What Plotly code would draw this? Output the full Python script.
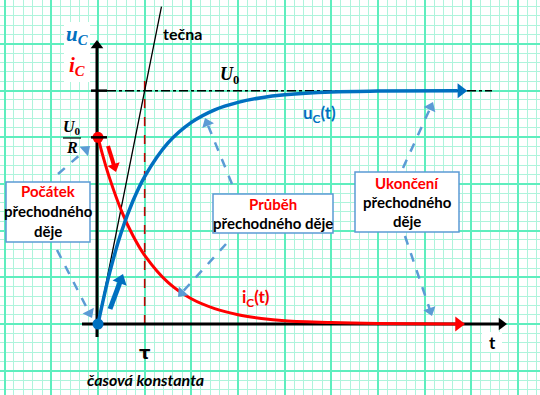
import math
import plotly.graph_objects as go

# ---- data (units: time in tau, values in grid units) ----
TAU = 1.0
U0 = 5.0
I0 = 4.0
t_uc = [0, 0.25, 0.5, 0.75, 1.0, 1.5, 2.0, 2.5, 3.0, 3.5, 4.0, 5.0, 6.0, 7.7]
uc = [0, 1.1, 1.97, 2.64, 3.16, 3.88, 4.32, 4.59, 4.75, 4.85, 4.91, 4.97, 4.99, 5.0]
t_ic = [0, 0.1, 0.25, 0.5, 0.75, 1.0, 1.5, 2.0, 2.5, 3.0, 3.5, 4.0, 5.0, 6.0, 7.65]
ic = [4.0, 3.62, 3.12, 2.43, 1.89, 1.47, 0.89, 0.54, 0.33, 0.2, 0.12, 0.07, 0.03, 0.01, 0.0]
tangent_t = [0, 1.36]
tangent_u = [0, 6.8]

# ---- layout helpers (pixel -> axis units) ----
W, H = 540, 395
S = 46.67
OX, OY = 98, 324
def X(px):
    return (px - OX) / S
def Y(py):
    return (OY - py) / S
def PX(x):
    return OX + x * S
def PY(y):
    return OY - y * S

BLUE = "#0070c0"
RED = "#ff0000"
LBLUE = "#5b9bd5"
DRED = "#c00000"

fig = go.Figure()

def arrow(s, e, color, width, hs, dash="solid", draw_line=True):
    dx, dy = e[0] - s[0], e[1] - s[1]
    L = math.hypot(dx, dy)
    ux, uy = dx / L, dy / L
    r = hs / 2.0
    c = (e[0] - ux * r, e[1] - uy * r)
    if draw_line:
        le = (e[0] - ux * r * 1.2, e[1] - uy * r * 1.2)
        fig.add_trace(go.Scatter(x=[X(s[0]), X(le[0])], y=[Y(s[1]), Y(le[1])], mode="lines",
                                 line=dict(color=color, width=width, dash=dash), hoverinfo="skip"))
    ang = math.degrees(math.atan2(dx, -dy))
    fig.add_trace(go.Scatter(x=[X(c[0])], y=[Y(c[1])], mode="markers",
                             marker=dict(symbol="triangle-up", size=hs, angle=ang, color=color,
                                         line=dict(width=0)), hoverinfo="skip"))

# tangent
fig.add_trace(go.Scatter(x=tangent_t, y=tangent_u, mode="lines",
                         line=dict(color="black", width=1.3), hoverinfo="skip"))
# axes
arrow((97, 337), (97, 40), "black", 3, 11)
arrow((82, 324), (507, 324), "black", 3, 11)
# curves
fig.add_trace(go.Scatter(x=t_ic, y=ic, mode="lines", line=dict(color=RED, width=3, shape="spline"),
                         hoverinfo="skip"))
fig.add_trace(go.Scatter(x=t_uc, y=uc, mode="lines", line=dict(color=BLUE, width=3.5, shape="spline"),
                         hoverinfo="skip"))
# curve end heads
arrow((PX(t_ic[-2]), PY(ic[-2])), (PX(t_ic[-1]) + 10, PY(ic[-1])), RED, 3, 13, draw_line=False)
arrow((PX(t_uc[-2]), PY(uc[-2])), (PX(t_uc[-1]) + 10, PY(uc[-1])), BLUE, 3, 13, draw_line=False)
fig.add_trace(go.Scatter(x=[t_ic[-1], X(PX(t_ic[-1]) + 4)], y=[0, 0], mode="lines",
                         line=dict(color=RED, width=3), hoverinfo="skip"))
fig.add_trace(go.Scatter(x=[t_uc[-1], X(PX(t_uc[-1]) + 4)], y=[U0, U0], mode="lines",
                         line=dict(color=BLUE, width=3.5), hoverinfo="skip"))
# dots
fig.add_trace(go.Scatter(x=[0], y=[I0], mode="markers", marker=dict(color=RED, size=11), hoverinfo="skip"))
fig.add_trace(go.Scatter(x=[0], y=[0], mode="markers", marker=dict(color=BLUE, size=11), hoverinfo="skip"))

# dashed arrows
dashed = [((58, 174), (90, 146)), ((57, 250), (92, 318)), ((232, 184), (205, 118)),
          ((226, 244), (178, 297)), ((403, 168), (433, 102)), ((405, 236), (432, 316))]
for (s, e) in dashed:
    arrow(s, e, LBLUE, 2.5, 11, dash="dash")
# solid short arrows
arrow((108, 146), (116, 172), RED, 4, 11)
arrow((110, 309), (123, 274), BLUE, 5, 13)

shapes = []
shapes.append(dict(type="line", x0=X(107), x1=X(492), y0=U0, y1=U0, layer="between",
                   line=dict(color="black", width=1.5, dash="dashdot")))
shapes.append(dict(type="line", x0=TAU, x1=TAU, y0=0, y1=Y(74), layer="between",
                   line=dict(color=DRED, width=1.6, dash="dash")))
for v in (U0, I0):
    shapes.append(dict(type="line", x0=X(91), x1=X(107), y0=v, y1=v, line=dict(color="black", width=2.5)))
shapes.append(dict(type="rect", x0=X(64), x1=X(90), y0=Y(82), y1=Y(22), fillcolor="white", line=dict(width=0)))
shapes.append(dict(type="rect", x0=X(482), x1=X(502), y0=Y(352), y1=Y(332), fillcolor="white", line=dict(width=0)))
for (l, t, r, b) in [(6, 182, 90, 242), (213, 194, 333, 233), (355, 172, 459, 232)]:
    shapes.append(dict(type="rect", x0=X(l), x1=X(r), y0=Y(b), y1=Y(t), fillcolor="white",
                       line=dict(color=LBLUE, width=1.5)))
shapes.append(dict(type="line", x0=X(63), x1=X(81), y0=Y(138), y1=Y(138), line=dict(color="black", width=1.2)))

ann = []
def txt(px, py, text, size, color="black", family="Lato"):
    ann.append(dict(x=X(px), y=Y(py), xref="x", yref="y", text=text, showarrow=False,
                    font=dict(size=size, color=color, family=family), xanchor="center",
                    yanchor="middle"))

SERIF = "Liberation Serif"
txt(77, 35, "<b><i>u<sub>C</sub></i></b>", 21, BLUE, SERIF)
txt(77, 66, "<b><i>i<sub>C</sub></i></b>", 21, RED, SERIF)
txt(182, 33, "<b>tečna</b>", 16)
txt(229, 75, "<b><i>U</i><sub>0</sub></b>", 18, family=SERIF)
txt(72, 127, "<b><i>U</i><sub>0</sub></b>", 16, family=SERIF)
txt(72, 147, "<b><i>R</i></b>", 16, family=SERIF)
txt(319, 114, "<b>u<sub>C</sub>(t)</b>", 17, BLUE)
txt(256, 298, "<b>i<sub>C</sub>(t)</b>", 17, RED)
txt(145, 352, "<b>τ</b>", 18, family="DejaVu Sans")
txt(145, 379, "<b><i>časová konstanta</i></b>", 16)
txt(492, 342, "<b>t</b>", 17)
txt(48, 191, "<b>Počátek</b>", 15, RED)
txt(48, 211, "<b>přechodného</b>", 15)
txt(48, 231, "<b>děje</b>", 15)
txt(273, 204, "<b>Průběh</b>", 15, RED)
txt(273, 223, "<b>přechodného děje</b>", 15)
txt(407, 183, "<b>Ukončení</b>", 15, RED)
txt(407, 202, "<b>přechodného</b>", 15)
txt(407, 221, "<b>děje</b>", 15)

MAJ = "#5eeebe"
MIN = "#aef4dc"
axis_common = dict(showticklabels=False, ticks="", zeroline=False, showline=False,
                   showgrid=True, gridcolor=MAJ, gridwidth=1.6, tick0=0, dtick=1,
                   minor=dict(showgrid=True, gridcolor=MIN, gridwidth=1, tick0=0, dtick=0.2),
                   fixedrange=True)
fig.update_layout(
    width=W, height=H, margin=dict(l=0, r=0, t=0, b=0),
    plot_bgcolor="white", paper_bgcolor="white", showlegend=False,
    xaxis=dict(range=[X(0), X(W)], **axis_common),
    yaxis=dict(range=[Y(H), Y(0)], **axis_common),
    shapes=shapes, annotations=ann,
)
fig.write_html("out.html", config=dict(displayModeBar=False))
